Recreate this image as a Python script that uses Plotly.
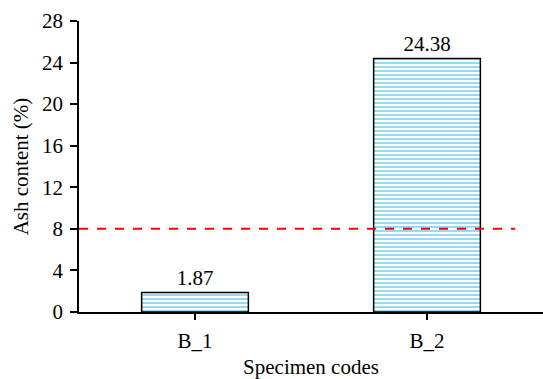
import plotly.graph_objects as go

categories = ["B_1", "B_2"]
ash_values = [1.87, 24.38]
value_labels = ["1.87", "24.38"]
limit_value = 8
y_ticks = [0, 4, 8, 12, 16, 20, 24, 28]

FONT = "Liberation Serif, Times New Roman, serif"

fig = go.Figure()
fig.add_trace(go.Bar(
    x=categories,
    y=ash_values,
    text=value_labels,
    textposition="outside",
    textfont=dict(family=FONT, size=21, color="black"),
    cliponaxis=False,
    width=0.46,
    marker=dict(
        color="white",
        line=dict(color="black", width=1.5),
        pattern=dict(shape="-", fgcolor="#2fb5ec", bgcolor="white", size=4, solidity=0.5),
    ),
))

fig.add_shape(
    type="line", xref="paper", yref="y",
    x0=0, x1=0.94, y0=limit_value, y1=limit_value,
    line=dict(color="red", width=2, dash="dash"),
)

fig.update_layout(
    width=543, height=379,
    margin=dict(l=79, r=0, t=21, b=67),
    plot_bgcolor="white", paper_bgcolor="white",
    showlegend=False,
    font=dict(family=FONT, size=21, color="black"),
    xaxis=dict(
        showline=True, linecolor="black", linewidth=1.5,
        ticks="outside", ticklen=6, tickcolor="black", tickwidth=1.5,
        tickfont=dict(family=FONT, size=21),
        ticklabelstandoff=3,
        title=dict(text="Specimen codes", font=dict(family=FONT, size=21), standoff=10),
        range=[-0.5, 1.5],
    ),
    yaxis=dict(
        range=[0, 28], tickvals=y_ticks,
        showline=True, linecolor="black", linewidth=1.5,
        ticks="outside", ticklen=7, tickcolor="black", tickwidth=1.5,
        showgrid=False, zeroline=False,
        tickfont=dict(family=FONT, size=21),
        ticklabelstandoff=3,
        title=dict(text="Ash content (%)", font=dict(family=FONT, size=21), standoff=8),
    ),
)

fig.write_html("out.html")
